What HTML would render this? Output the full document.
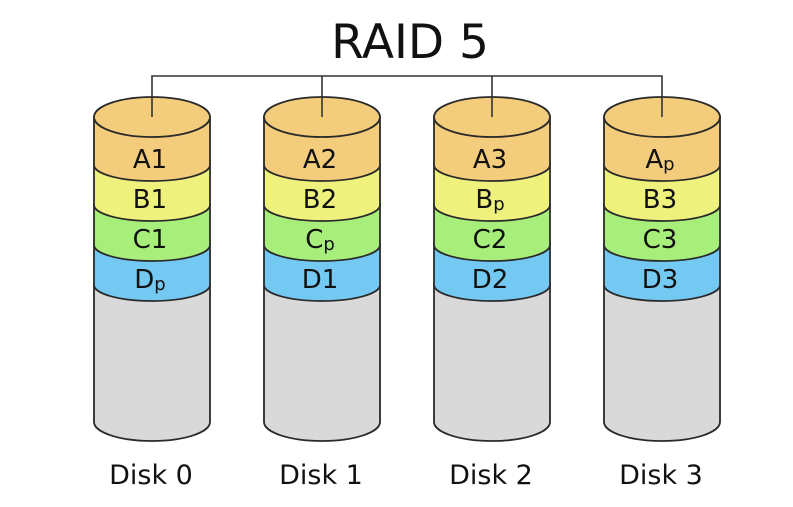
<!DOCTYPE html>
<html><head><meta charset="utf-8"><style>
html,body{margin:0;padding:0;background:#fff;width:793px;height:507px;overflow:hidden}
svg text{font-family:"DejaVu Sans","Liberation Sans",sans-serif;fill:#111}
</style></head><body>
<svg width="793" height="507" viewBox="0 0 793 507" xmlns="http://www.w3.org/2000/svg">
<text x="410" y="58" font-size="47" text-anchor="middle">RAID 5</text>
<path d="M152 117 V76 H662 V117 M322 76 V117 M492 76 V117" fill="none" stroke="#333" stroke-width="1.6"/>
<script>
(function(){
var svg=document.querySelector('svg');var ns='http://www.w3.org/2000/svg';
var cx=[152,322,492,662];var rx=58;
var labels=[['A1','B1','C1','Dp'],['A2','B2','Cp','D1'],['A3','Bp','C2','D2'],['Ap','B3','C3','D3']];
var disks=['Disk 0','Disk 1','Disk 2','Disk 3'];
var bands=[[117,165,'#f4cd7c'],[165,205,'#eef27c'],[205,245,'#a8ee7a'],[245,285,'#74c9f3'],[285,422,'#d9d9d9']];
function band(x,t,b,ry,col){var l=x-rx,r=x+rx;var p=document.createElementNS(ns,'path');
p.setAttribute('d','M'+l+' '+t+' L'+l+' '+b+' A'+rx+' '+ry+' 0 0 0 '+r+' '+b+' L'+r+' '+t+' Z');
p.setAttribute('fill',col);p.setAttribute('stroke','#2a2a2a');p.setAttribute('stroke-width','1.8');svg.appendChild(p);}
function txt(x,y,s,sz){var t=document.createElementNS(ns,'text');t.setAttribute('x',x);t.setAttribute('y',y);t.setAttribute('font-size',sz);t.setAttribute('text-anchor','middle');
if(s.length==2&&s[1]=='p'){t.textContent=s[0];var ts=document.createElementNS(ns,'tspan');ts.setAttribute('font-size','18');ts.setAttribute('dy','2');ts.textContent='p';t.appendChild(ts);}else t.textContent=s;svg.appendChild(t);}
for(var i=0;i<4;i++){var x=cx[i];
for(var k=4;k>=0;k--){band(x,bands[k][0],bands[k][1],k==4?19:16,bands[k][2]);}
var e=document.createElementNS(ns,'ellipse');e.setAttribute('cx',x);e.setAttribute('cy',117);e.setAttribute('rx',rx);e.setAttribute('ry',20);e.setAttribute('fill','#f4cd7c');e.setAttribute('stroke','#2a2a2a');e.setAttribute('stroke-width','1.8');svg.appendChild(e);
var ln=document.createElementNS(ns,'line');ln.setAttribute('x1',x);ln.setAttribute('x2',x);ln.setAttribute('y1',97);ln.setAttribute('y2',117);ln.setAttribute('stroke','#333');ln.setAttribute('stroke-width','1.6');svg.appendChild(ln);
var ys=[168,208,248,288];
for(var j=0;j<4;j++)txt(x-2,ys[j],labels[i][j],26);
txt(x-1,484,disks[i],27);}
})();
</script>
</svg>
</body></html>
